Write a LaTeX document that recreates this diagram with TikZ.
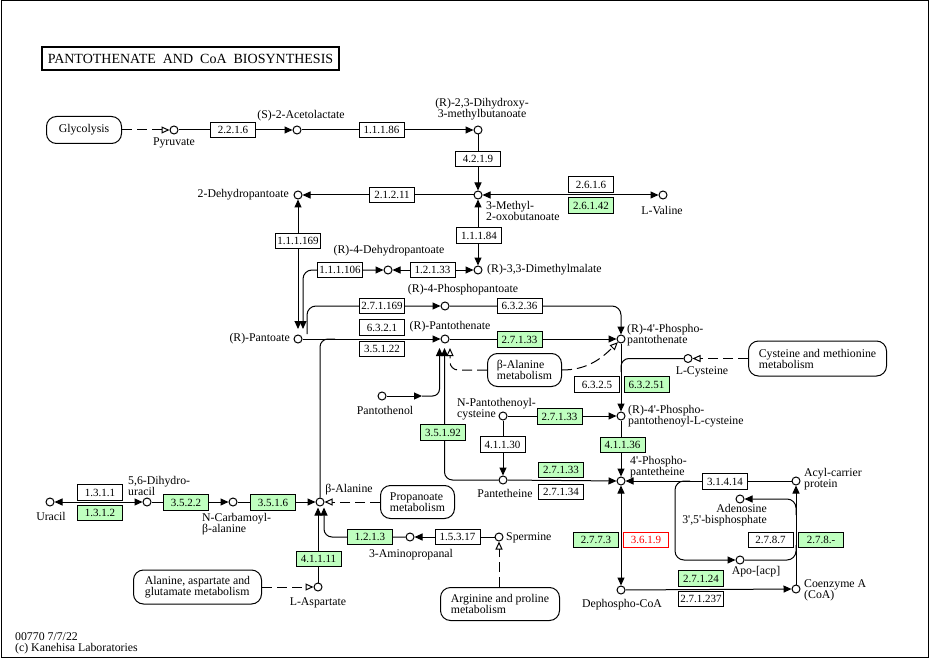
\documentclass[tikz,border=0pt]{standalone}
\usepackage{fontspec}
\setmainfont{Liberation Serif}
\usetikzlibrary{arrows.meta}
\definecolor{kgreen}{HTML}{BFFFBF}
\newcommand{\apos}{\textquotesingle}
\begin{document}
\begin{tikzpicture}[x=1pt,y=-1pt,
  >={Triangle[length=8pt,width=7pt]},
  every node/.style={font=\fontsize{11.8}{11}\selectfont},
  cpd/.style={circle,draw,line width=1pt,fill=white,minimum size=8pt,inner sep=0pt},
  ec/.style={draw,line width=1pt,fill=white,minimum width=45pt,minimum height=15.5pt,inner sep=0pt,font=\fontsize{11}{11}\selectfont},
  gec/.style={ec,fill=kgreen},
  rec/.style={ec,draw=red,text=red},
  mapbox/.style={draw,line width=1pt,rounded corners=10pt,fill=white,align=left,inner sep=0pt},
  lbl/.style={inner sep=0pt},
  link/.style={line width=1pt},
  dlink/.style={line width=1pt,dash pattern=on 10pt off 5pt,-{Triangle[open,length=8pt,width=7pt]}}
]
\useasboundingbox (0,0) rectangle (933,660);
\draw[line width=1pt] (1,1) rectangle (928,657);

% title
\node[draw,line width=2pt,minimum width=297pt,minimum height=23pt,inner sep=0pt,font=\fontsize{14}{14}\selectfont] (title) at (190.5,58.5) {PANTOTHENATE\ \ AND\ \ CoA\ \ BIOSYNTHESIS};

% map boxes
\node[mapbox,minimum width=75pt,minimum height=27pt,align=center] (glyc) at (84,130) {Glycolysis};
\node[mapbox,minimum width=74pt,minimum height=33pt] (bam) at (524.5,370) {β-Alanine\\metabolism};
\node[mapbox,minimum width=138pt,minimum height=35pt] (cmm) at (817.5,358.5) {Cysteine and methionine\\metabolism};
\node[mapbox,minimum width=74pt,minimum height=33pt] (prm) at (417.5,502) {Propanoate\\metabolism};
\node[mapbox,minimum width=128pt,minimum height=34pt] (aam) at (197.5,587) {Alanine, aspartate and\\glutamate metabolism};
\node[mapbox,minimum width=119pt,minimum height=33pt] (apm) at (500,604) {Arginine and proline\\metabolism};

% compounds
\node[cpd] (pyr) at (174,130) {};
\node[cpd] (acl) at (297,130) {};
\node[cpd] (dhmb) at (478,130) {};
\node[cpd] (mob) at (478,195) {};
\node[cpd] (val) at (663,195) {};
\node[cpd] (dhp) at (298,195) {};
\node[cpd] (dmm) at (478,270) {};
\node[cpd] (dhp4) at (388,270) {};
\node[cpd] (pant) at (298,339) {};
\node[cpd] (ppa) at (445,306) {};
\node[cpd] (pan) at (445,339) {};
\node[cpd] (ppt) at (621,339) {};
\node[cpd] (pol) at (382,396) {};
\node[cpd] (lcys) at (688,358.5) {};
\node[cpd] (npc) at (503,416) {};
\node[cpd] (ppc) at (621,416) {};
\node[cpd] (ptt) at (503,480) {};
\node[cpd] (ppe) at (621,481) {};
\node[cpd] (acp) at (796,481) {};
\node[cpd] (ado) at (740,499) {};
\node[cpd] (apo) at (740,560) {};
\node[cpd] (coa) at (796,589) {};
\node[cpd] (dcoa) at (621,590) {};
\node[cpd] (ura) at (50,502) {};
\node[cpd] (dhu) at (147,502) {};
\node[cpd] (ncb) at (233,502) {};
\node[cpd] (bala) at (320,502) {};
\node[cpd] (asp) at (318,587) {};
\node[cpd] (app) at (410,537) {};
\node[cpd] (spm) at (499,537) {};

% free ends
\coordinate (pantA) at (298,329);
\coordinate (pantB) at (303,329);
\coordinate (pantC) at (307,334);
\coordinate (panA) at (439.5,348);
\coordinate (panB) at (444.5,348);
\coordinate (panC) at (450,348);
\coordinate (polm) at (422,396);
\coordinate (balaA) at (318,507.5);
\coordinate (balaB) at (324,507.5);
\coordinate (lpA) at (690,481);
\coordinate (lpB) at (796,515);
\coordinate (lpC) at (796,545);
\coordinate (bj) at (335,339);
\coordinate (cj) at (621,372);

% connectors
\draw[dlink] (glyc) -- (pyr);
\draw[link,->] (pyr) -- (acl);
\draw[link,->] (acl) -- (dhmb);
\draw[link,->] (dhmb) -- (mob);
\draw[link,->] (mob) -- (dhp);
\draw[link,<->] (val) -- (mob);
\draw[link,<->] (mob) -- (dmm);
\draw[link,<->] (dhp4) -- (dmm);
\draw[link,<->] (dhp) -- (pantA);
\draw[link,<->,rounded corners=9pt] (dhp4) -- (303,270) -- (pantB);
\draw[link,->,rounded corners=9pt] (pantC) -- (307,306) -- (ppa);
\draw[link,->,rounded corners=9pt] (ppa) -- (621,306) -- (ppt);
\draw[link,->] (pant) -- (pan);
\draw[link,rounded corners=8pt] (bala) -- (320,339) -- (bj);
\draw[link,->] (pan) -- (ppt);
\draw[link,->] (pol) -- (polm);
\draw[link,->,rounded corners=7pt] (polm) -- (439.5,396) -- (panA);
\draw[link,->,rounded corners=8pt] (ptt) -- (444.5,480) -- (panB);
\draw[dlink,rounded corners=8pt] (bam) -- (450,370) -- (panC);
\draw[dlink] (bam.east) to[out=0,in=225] (ppt);
\draw[link,->] (ppt) -- (ppc);
\draw[link,rounded corners=8pt] (lcys) -- (621,358.5) -- (cj);
\draw[dlink] (cmm) -- (lcys);
\draw[link,->] (npc) -- (ppc);
\draw[link,->] (npc) -- (ptt);
\draw[link,->] (ppc) -- (ppe);
\draw[link,->] (ptt) -- (ppe);
\draw[link,->] (acp) -- (ppe);
\draw[link,->,rounded corners=9pt] (lpA) -- (675,481) -- (675,560) -- (apo);
\draw[link,->,rounded corners=9pt] (lpB) -- (796,499) -- (ado);
\draw[link,rounded corners=9pt] (apo) -- (796,560) -- (lpC);
\draw[link,->] (coa) -- (acp);
\draw[link,<->] (ppe) -- (dcoa);
\draw[link,->] (dcoa) -- (coa);
\draw[link,<->] (dhu) -- (ura);
\draw[link,->] (dhu) -- (ncb);
\draw[link,->] (ncb) -- (bala);
\draw[dlink] (prm) -- (bala);
\draw[link,->] (asp) -- (balaA);
\draw[link,->,rounded corners=8pt] (app) -- (324,537) -- (balaB);
\draw[link,->] (spm) -- (app);
\draw[dlink] (spm |- apm.north) -- (spm);
\draw[dlink] (aam) -- (asp);

% enzymes
\node[ec] (e2216) at (233,130) {2.2.1.6};
\node[ec] (e11186) at (381.5,130) {1.1.1.86};
\node[ec] (e4219) at (478,159) {4.2.1.9};
\node[ec] (e21211) at (392,195) {2.1.2.11};
\node[ec] (e2616) at (591,184.5) {2.6.1.6};
\node[gec] (e26142) at (591,205.5) {2.6.1.42};
\node[ec] (e11184) at (479,235.5) {1.1.1.84};
\node[ec] (e111169) at (298,241) {1.1.1.169};
\node[ec] (e111106) at (340,270) {1.1.1.106};
\node[ec] (e12133) at (432.5,270) {1.2.1.33};
\node[ec] (e271169) at (382,306) {2.7.1.169};
\node[ec] (e63236) at (519.5,306) {6.3.2.36};
\node[ec] (e6321) at (382,327.5) {6.3.2.1};
\node[ec] (e35122) at (382,349) {3.5.1.22};
\node[gec] (e27133a) at (519.5,339.5) {2.7.1.33};
\node[gec] (e35192) at (443,432.5) {3.5.1.92};
\node[ec] (e6325) at (597,384.5) {6.3.2.5};
\node[gec] (e63251) at (646.5,384.5) {6.3.2.51};
\node[gec] (e27133b) at (559.5,416.5) {2.7.1.33};
\node[ec] (e41130) at (502.5,444.5) {4.1.1.30};
\node[gec] (e41136) at (622.5,445) {4.1.1.36};
\node[gec] (e27133c) at (561,470) {2.7.1.33};
\node[ec] (e27134) at (561,492) {2.7.1.34};
\node[ec] (e31414) at (725,481.5) {3.1.4.14};
\node[ec] (e2787) at (770.5,540) {2.7.8.7};
\node[gec] (e278x) at (821,540) {2.7.8.-};
\node[gec] (e2773) at (596,540) {2.7.7.3};
\node[rec] (e3619) at (646,540) {3.6.1.9};
\node[gec] (e27124) at (701,578.5) {2.7.1.24};
\node[ec] (e271237) at (701,599) {2.7.1.237};
\node[ec] (e1311) at (100,492.5) {1.3.1.1};
\node[gec] (e1312) at (100,513) {1.3.1.2};
\node[gec] (e3522) at (186,502.5) {3.5.2.2};
\node[gec] (e3516) at (273,502.5) {3.5.1.6};
\node[gec] (e41111) at (318.5,559) {4.1.1.11};
\node[gec] (e1213) at (370,537) {1.2.1.3};
\node[ec] (e15317) at (457.5,537) {1.5.3.17};

% labels
\node[lbl] (tPyr) at (174,143) {Pyruvate};
\node[lbl] (tAcl) at (301,116) {(S)-2-Acetolactate};
\node[lbl,align=center] (tDhmb) at (482,109) {(R)-2,3-Dihydroxy-\\3-methylbutanoate};
\node[lbl,anchor=east] (tDhp) at (289,195) {2-Dehydropantoate};
\node[lbl,anchor=west,align=left] (tMob) at (486,211) {3-Methyl-\\2-oxobutanoate};
\node[lbl] (tVal) at (662,210) {L-Valine};
\node[lbl] (tDhp4) at (389,251) {(R)-4-Dehydropantoate};
\node[lbl,anchor=west] (tDmm) at (487,270) {(R)-3,3-Dimethylmalate};
\node[lbl,anchor=east] (tPant) at (290,339) {(R)-Pantoate};
\node[lbl] (tPpa) at (463,290) {(R)-4-Phosphopantoate};
\node[lbl] (tPan) at (450,327) {(R)-Pantothenate};
\node[lbl,anchor=west,align=left] (tPpt) at (627,335) {(R)-4\apos-Phospho-\\pantothenate};
\node[lbl] (tPol) at (385,410) {Pantothenol};
\node[lbl] (tLcys) at (702,372) {L-Cysteine};
\node[lbl,anchor=west,align=left] (tNpc) at (457,409.5) {N-Pantothenoyl-\\cysteine};
\node[lbl,anchor=west,align=left] (tPpc) at (628,416.5) {(R)-4\apos-Phospho-\\pantothenoyl-L-cysteine};
\node[lbl,anchor=west,align=left] (tPpe) at (630,467) {4\apos-Phospho-\\pantetheine};
\node[lbl] (tPtt) at (505,493) {Pantetheine};
\node[lbl,anchor=west,align=left] (tAcp) at (804,479.5) {Acyl-carrier\\protein};
\node[lbl,anchor=east,align=right] (tAdo) at (767,515.5) {Adenosine\\3\apos,5\apos-bisphosphate};
\node[lbl] (tApo) at (756,572) {Apo-[acp]};
\node[lbl,anchor=west,align=left] (tCoa) at (804,590.5) {Coenzyme A\\(CoA)};
\node[lbl] (tDcoa) at (622,605) {Dephospho-CoA};
\node[lbl] (tUra) at (51,516) {Uracil};
\node[lbl,anchor=west,align=left] (tDhu) at (128,485.5) {5,6-Dihydro-\\uracil};
\node[lbl,anchor=west,align=left] (tNcb) at (202,524.5) {N-Carbamoyl-\\β-alanine};
\node[lbl] (tBala) at (349,490) {β-Alanine};
\node[lbl] (tApp) at (411,555) {3-Aminopropanal};
\node[lbl,anchor=west] (tSpm) at (506,538) {Spermine};
\node[lbl] (tAsp) at (318,603) {L-Aspartate};
\node[lbl,anchor=west,align=left] (tFoot) at (15,643) {00770 7/7/22\\(c) Kanehisa Laboratories};
\end{tikzpicture}
\end{document}
